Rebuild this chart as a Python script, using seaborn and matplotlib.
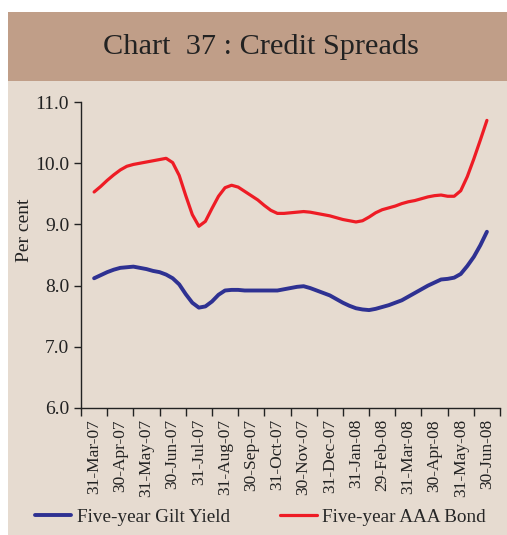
import numpy as np
import pandas as pd
import matplotlib
matplotlib.use("Agg")
import matplotlib.pyplot as plt
from matplotlib.patches import Rectangle
from matplotlib.ticker import FormatStrFormatter
import seaborn as sns

# month labels on the x axis (end of month dates)
month_labels = ["31-Mar-07", "30-Apr-07", "31-May-07", "30-Jun-07", "31-Jul-07",
                "31-Aug-07", "30-Sep-07", "31-Oct-07", "30-Nov-07", "31-Dec-07",
                "31-Jan-08", "29-Feb-08", "31-Mar-08", "30-Apr-08", "31-May-08",
                "30-Jun-08"]

# weekly-ish observations, in months since 31-Mar-07
months = np.arange(0, 15.01, 0.25)

# Five-year Gilt Yield (per cent)
gilt = [8.12, 8.17, 8.22, 8.26, 8.29, 8.30, 8.31, 8.29, 8.27, 8.24,
        8.22, 8.18, 8.12, 8.02, 7.86, 7.72, 7.64, 7.66, 7.74, 7.85,
        7.92, 7.93, 7.93, 7.92, 7.92, 7.92, 7.92, 7.92, 7.92, 7.94,
        7.96, 7.98, 7.99, 7.96, 7.92, 7.88, 7.84, 7.78, 7.72, 7.67,
        7.63, 7.61, 7.60, 7.62, 7.65, 7.68, 7.72, 7.76, 7.82, 7.88,
        7.94, 8.00, 8.05, 8.10, 8.11, 8.13, 8.19, 8.32, 8.47, 8.66,
        8.88]

# Five-year AAA Bond (per cent)
aaa = [9.53, 9.62, 9.72, 9.81, 9.89, 9.95, 9.98, 10.00, 10.02, 10.04,
       10.06, 10.08, 10.01, 9.80, 9.47, 9.16, 8.97, 9.05, 9.26, 9.46,
       9.60, 9.64, 9.61, 9.54, 9.47, 9.40, 9.31, 9.23, 9.18, 9.18,
       9.19, 9.20, 9.21, 9.20, 9.18, 9.16, 9.14, 9.11, 9.08, 9.06,
       9.04, 9.06, 9.12, 9.19, 9.24, 9.27, 9.30, 9.34, 9.37, 9.39,
       9.42, 9.45, 9.47, 9.48, 9.46, 9.46, 9.55, 9.78, 10.07, 10.38,
       10.70]

df = pd.DataFrame({"month": months, "gilt": gilt, "aaa": aaa})

bg = "#e6dbd0"
band = "#c09e88"

sns.set_theme(style="ticks")
plt.rcParams["font.family"] = ["Liberation Serif", "DejaVu Serif"]

fig = plt.figure(figsize=(5.07, 5.35), dpi=100)
fig.patch.set_facecolor("white")
# beige panel + title band
fig.patches.append(Rectangle((8 / 507, 0), 1, 1 - 81 / 535, transform=fig.transFigure,
                             facecolor=bg, edgecolor="none", zorder=-2))
fig.patches.append(Rectangle((8 / 507, 1 - 81 / 535), 1, 69 / 535, transform=fig.transFigure,
                             facecolor=band, edgecolor="none", zorder=-2))
fig.text(0.515, 1 - 47 / 535, "Chart  37 : Credit Spreads", ha="center", va="center",
         fontsize=21.8, color="#222222")

ax = fig.add_axes([0.1598, 0.2374, 0.8264, 0.5719])
ax.set_facecolor(bg)

sns.lineplot(data=df, x="month", y="gilt", ax=ax, color="#2e3192", linewidth=2.8,
             label="Five-year Gilt Yield", solid_capstyle="round", solid_joinstyle="round")
sns.lineplot(data=df, x="month", y="aaa", ax=ax, color="#ee1c25", linewidth=2.3,
             label="Five-year AAA Bond", solid_capstyle="round", solid_joinstyle="round")

ax.set_xlim(-0.5, 15.5)
ax.set_ylim(6, 11)
ax.set_yticks(np.arange(6, 11.5, 1))
ax.yaxis.set_major_formatter(FormatStrFormatter("%.1f"))
ax.set_xticks(np.arange(len(month_labels)))
ax.set_xticklabels(month_labels, rotation=90)
ax.set_xticks(np.arange(-0.5, 16, 1), minor=True)
ax.tick_params(axis="x", which="major", length=0, labelsize=12.5, pad=8, colors="#222222")
ax.tick_params(axis="x", which="minor", length=6, width=1, color="#222222")
ax.tick_params(axis="y", length=5, width=1, labelsize=14, color="#222222", labelcolor="#222222")
ax.set_xlabel("")
ax.set_ylabel("Per cent", fontsize=14, color="#222222", va="center")
ax.yaxis.set_label_coords(-0.134, 0.58)
for s in ["top", "right"]:
    ax.spines[s].set_visible(False)
for s in ["left", "bottom"]:
    ax.spines[s].set_color("#222222")
    ax.spines[s].set_linewidth(1)

handles, labels = ax.get_legend_handles_labels()
ax.get_legend().remove()
fig.legend(handles, labels, loc="center", bbox_to_anchor=(0.514, 0.034), ncol=2,
           frameon=False, fontsize=13.8, handlelength=1.9, handletextpad=0.3,
           columnspacing=2.6)

fig.savefig("out.png", dpi=100)
